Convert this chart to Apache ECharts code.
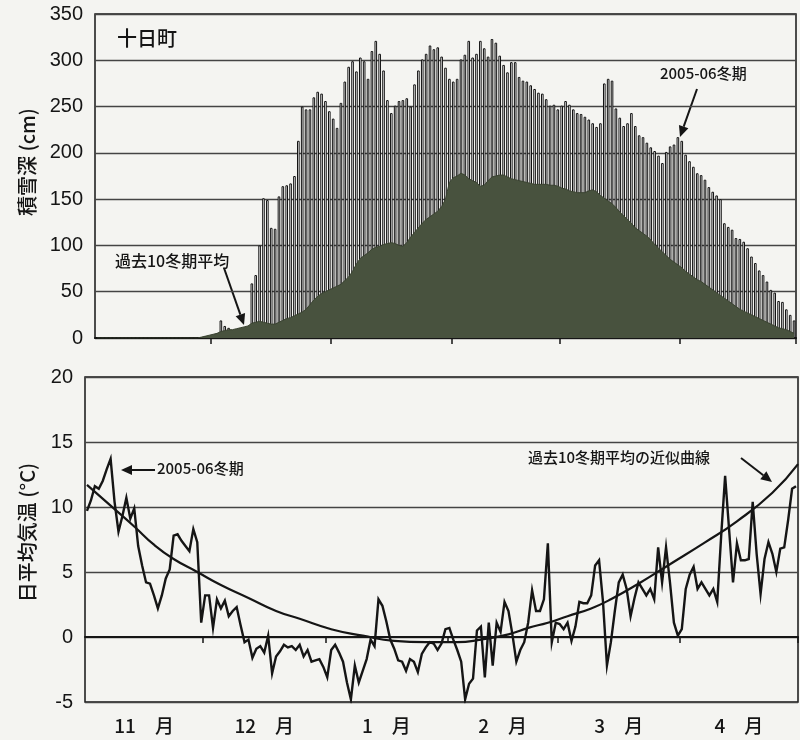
<!DOCTYPE html>
<html><head><meta charset="utf-8">
<script src="https://cdn.jsdelivr.net/npm/echarts@6/dist/echarts.min.js"></script>
<style>html,body{margin:0;padding:0;background:#f4f4f1}#c{width:800px;height:740px}</style>
</head><body><div id="c"></div>
<script>
// ---- data ----
const monthLabels = ['11\u3000月', '12\u3000月', '1\u3000月', '2\u3000月', '3\u3000月', '4\u3000月'];
const monthStarts = [0, 30, 61, 92, 120, 151, 181];   // day index of each month start (Nov 1 = 0)
const snowAxisTicks = [0, 50, 100, 150, 200, 250, 300, 350];
const tempAxisTicks = [-5, 0, 5, 10, 15, 20];

// 2005-06 daily snow depth (cm), Nov 1 .. Apr 30
const snow2005 = [
  1,1,1,1,1,1,1,1,1,1,1,0,0,0,0,0,0,0,0,0,0,0,0,0,0,0,1,1,2,2,
  3,5,19,13,11,8,9,10,11,12,59,68,100,151,149,119,118,153,164,165,167,175,213,250,247,247,260,266,264,256,245,
  237,227,254,277,293,299,288,303,299,280,310,321,307,289,257,243,251,256,257,259,250,274,289,301,307,316,312,314,304,292,
  280,277,280,301,306,321,303,307,321,313,304,323,319,305,295,287,298,298,282,278,277,273,269,265,264,258,251,252,247,
  251,256,252,247,243,242,239,236,232,228,232,275,280,278,248,238,229,232,243,229,219,217,211,206,202,197,189,201,207,209,217,
  213,198,191,185,178,176,171,163,158,154,150,124,120,117,108,107,104,97,88,81,73,68,61,52,49,40,39,31,25,19
];
// past 10 winters average snow depth (cm)
const snowAvg = [
  0,0,0,0,0,0,0,0,0,0,0,0,0,0,0,0,0,0,0,0,0,0,0,0,0,0,0,1,2,3,
  4,5,7,8,9,9,10,11,12,13,16,17,18,17,16,15,15,17,19,21,22,24,26,28,31,36,41,45,48,50,52,
  54,56,58,62,66,72,80,86,89,92,96,98,99,101,102,103,102,100,99,103,109,114,119,124,128,131,134,137,142,150,
  168,173,175,178,176,172,170,168,164,165,170,174,175,176,176,174,172,171,170,169,168,167,166,166,166,166,165,165,164,
  162,161,159,158,157,157,157,159,160,158,154,151,148,145,141,136,132,128,124,119,116,113,110,106,101,97,93,89,85,82,79,
  76,72,69,66,63,61,58,55,52,49,46,43,40,37,34,31,29,27,25,23,21,19,17,15,13,11,10,9,7,5
];
// 2005-06 daily mean temperature (°C)
const temp2005 = [
  9.7,10.5,11.6,11.4,12.0,12.9,13.7,10.4,8.1,9.3,10.7,9.1,9.9,7.0,5.5,4.2,4.1,3.2,2.2,3.2,4.5,5.2,7.8,7.9,7.4,7.0,6.6,8.3,7.3,1.1,
  3.2,3.2,0.7,2.9,2.2,2.8,1.6,2.0,2.3,0.9,-0.4,-0.2,-1.6,-0.9,-0.7,-1.2,0.1,-2.8,-1.5,-1.1,-0.6,-0.8,-0.7,-1.0,-0.6,-1.5,-1.0,-1.9,-1.8,-1.7,-2.3,
  -3.1,-1.0,-0.6,-1.2,-1.9,-3.5,-4.8,-2.2,-3.5,-2.6,-1.7,-0.2,-0.7,2.9,2.4,1.2,-0.2,-0.9,-1.8,-1.9,-2.6,-1.7,-1.9,-2.7,-1.3,-0.8,-0.4,-0.5,-1.0,-0.5,0.6,
  0.7,-0.2,-1.0,-1.9,-4.8,-3.6,-3.2,0.5,0.8,-3.1,1.1,-2.2,1.1,0.4,2.7,2.0,0.2,-1.9,-1.0,-0.4,1.1,3.6,2.0,2.0,2.9,7.2,-0.4,1.1,
  1.0,0.6,1.1,-0.3,0.8,2.7,2.6,2.6,3.2,5.5,5.9,2.7,-2.2,-0.4,2.0,4.2,4.8,3.7,1.6,3.0,4.2,3.7,3.2,3.7,2.9,6.9,4.2,6.9,4.2,1.1,0.1,
  0.6,3.7,4.8,5.4,3.7,4.2,3.7,3.2,3.7,2.7,7.8,12.4,8.3,4.2,7.2,5.9,5.9,6.0,10.4,6.4,3.3,6.0,7.3,6.4,5.0,6.8,6.9,9.0,11.4,11.6
];
// fitted curve of past 10 winters average (read positions: day index, °C)
const fitDays = [0, 6, 12, 17, 22, 28, 34, 41, 48, 54, 62, 70, 78, 86, 94, 100, 107, 112, 117, 122, 128, 133, 140, 148, 157, 165, 174, 180.5];
const fitTemp = [11.7, 10.1, 8.5, 7.1, 6.0, 5.0, 4.0, 3.0, 2.0, 1.4, 0.6, 0.1, -0.3, -0.4, -0.4, -0.2, 0.2, 0.7, 1.1, 1.6, 2.2, 2.9, 4.1, 5.6, 7.3, 8.9, 11.1, 13.3];

// ---- chart ----
const FONT = '"Liberation Sans", Arial, sans-serif';
const JFONT = '"Noto Sans CJK JP", sans-serif';
const labelPos = monthLabels.map((_, i) => (monthStarts[i] + monthStarts[i + 1]) / 2);
const ink = '#151515';

function arrow(x1, y1, x2, y2) {
  const a = Math.atan2(y2 - y1, x2 - x1), L = 11, W = 5;
  const bx = x2 - L * Math.cos(a), by = y2 - L * Math.sin(a);
  const px = -Math.sin(a) * W, py = Math.cos(a) * W;
  return [
    { type: 'line', shape: { x1: x1, y1: y1, x2: bx, y2: by }, style: { stroke: ink, lineWidth: 2 } },
    { type: 'polygon', shape: { points: [[x2, y2], [bx + px, by + py], [bx - px, by - py]] }, style: { fill: ink } }
  ];
}
function txt(x, y, s, size) {
  return { type: 'text', left: x, top: y, style: { text: s, fill: ink, font: '500 ' + size + 'px ' + JFONT } };
}

const chart = echarts.init(document.getElementById('c'), null, { renderer: 'canvas' });
chart.setOption({
  animation: false,
  backgroundColor: '#f4f4f1',
  grid: [
    { left: 95, top: 14, width: 701, height: 324, show: true, borderColor: ink, borderWidth: 1.5, backgroundColor: 'transparent' },
    { left: 85, top: 377, width: 713, height: 325, show: true, borderColor: ink, borderWidth: 1.5, backgroundColor: 'transparent' }
  ],
  xAxis: [
    { type: 'value', gridIndex: 0, min: 0, max: 181,
      axisLine: { show: true, lineStyle: { color: ink, width: 2 } },
      axisTick: { show: true, customValues: monthStarts.slice(1), length: 6, lineStyle: { color: ink, width: 1.5 } },
      axisLabel: { show: false }, splitLine: { show: false } },
    { type: 'value', gridIndex: 1, min: 0, max: 181,
      axisLine: { show: true, lineStyle: { color: ink, width: 2 } },
      axisTick: { show: true, customValues: monthStarts.slice(1), length: 6, lineStyle: { color: ink, width: 1.5 } },
      axisLabel: { show: true, customValues: labelPos, margin: 14, color: ink,
        fontFamily: JFONT, fontSize: 19, fontWeight: 500,
        formatter: v => { const i = labelPos.findIndex(p => Math.abs(p - v) < 0.01); return i >= 0 ? monthLabels[i] : ''; } },
      splitLine: { show: false } }
  ],
  yAxis: [
    { type: 'value', gridIndex: 0, min: snowAxisTicks[0], max: snowAxisTicks[snowAxisTicks.length - 1], interval: snowAxisTicks[1] - snowAxisTicks[0],
      axisLine: { show: false }, axisTick: { show: false },
      axisLabel: { color: ink, fontFamily: FONT, fontSize: 20, margin: 12 },
      splitLine: { show: true, lineStyle: { color: '#444', width: 1.3 } },
      name: '積雪深 (cm)', nameLocation: 'middle', nameGap: 58,
      nameTextStyle: { color: ink, fontFamily: JFONT, fontSize: 20, fontWeight: 500, padding: [0, 0, 0, 28] } },
    { type: 'value', gridIndex: 1, min: tempAxisTicks[0], max: tempAxisTicks[tempAxisTicks.length - 1], interval: tempAxisTicks[1] - tempAxisTicks[0],
      axisLine: { show: false }, axisTick: { show: false },
      axisLabel: { color: ink, fontFamily: FONT, fontSize: 20, margin: 12 },
      splitLine: { show: true, lineStyle: { color: '#444', width: 1.3 } },
      name: '日平均気温 (°C)', nameLocation: 'middle', nameGap: 48,
      nameTextStyle: { color: ink, fontFamily: JFONT, fontSize: 20, fontWeight: 500, padding: [0, 0, 0, 14] } }
  ],
  series: [
    { type: 'bar', xAxisIndex: 0, yAxisIndex: 0, barWidth: 2.6, z: 2,
      data: snow2005.map((v, i) => [i + 0.5, v]),
      itemStyle: { color: '#ffffff', borderColor: '#111', borderWidth: 1 } },
    { type: 'line', xAxisIndex: 0, yAxisIndex: 0, symbol: 'none', z: 3,
      data: snowAvg.map((v, i) => [i + 0.5, v]),
      lineStyle: { color: '#3a4331', width: 1 },
      areaStyle: { color: '#48523e', opacity: 1 } },
    { type: 'line', xAxisIndex: 1, yAxisIndex: 1, symbol: 'none', z: 4,
      data: temp2005.map((v, i) => [i + 0.5, v]),
      lineStyle: { color: ink, width: 2.4, join: 'miter' } },
    { type: 'line', xAxisIndex: 1, yAxisIndex: 1, symbol: 'none', smooth: true, z: 4,
      data: fitDays.map((d, i) => [d + 0.5, fitTemp[i]]),
      lineStyle: { color: ink, width: 2.2 } }
  ],
  graphic: [
    txt(117, 28, '十日町', 20),
    txt(115, 253, '過去10冬期平均', 16),
    ...arrow(224, 268, 244, 325),
    txt(660, 66, '2005-06冬期', 15),
    ...arrow(697, 89, 680, 137),
    txt(157, 461, '2005-06冬期', 15),
    ...arrow(155, 470, 121, 470),
    txt(528, 450, '過去10冬期平均の近似曲線', 15),
    ...arrow(741, 458, 772, 482)
  ]
});
</script></body></html>
